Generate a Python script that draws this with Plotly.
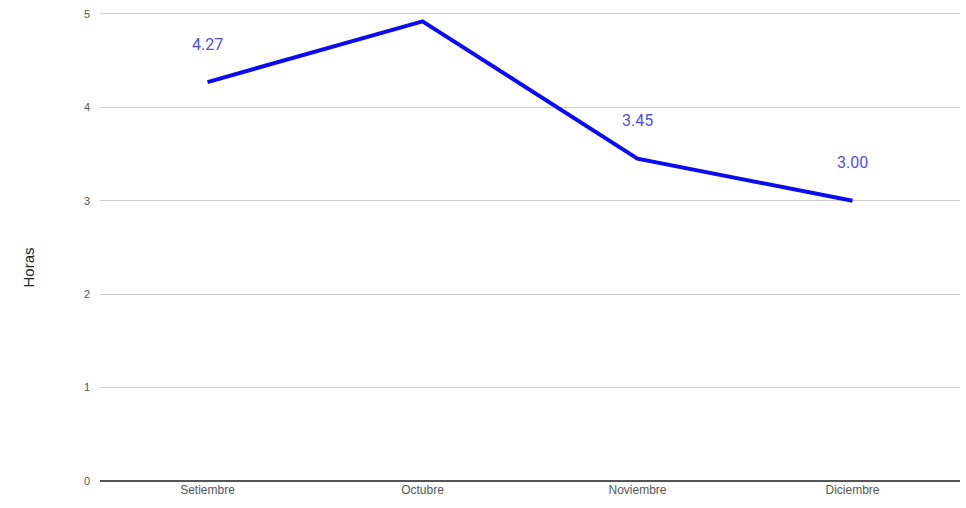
import plotly.graph_objects as go

months = ["Setiembre", "Octubre", "Noviembre", "Diciembre"]
horas = [4.27, 4.92, 3.45, 3.00]
labels = ["4.27", "", "3.45", "3.00"]
y_ticks = [0, 1, 2, 3, 4, 5]

W, H = 966, 508
ml, mr, mt, mb = 100, 6, 12, 27

fig = go.Figure()
fig.add_trace(go.Scatter(
    x=months, y=horas, mode="lines",
    line=dict(color="#0b0bf0", width=4),
    hoverinfo="skip", showlegend=False,
))
for m, v, t in zip(months, horas, labels):
    if t:
        fig.add_annotation(x=m, y=v, text=t, showarrow=False, yshift=38,
                           font=dict(family="Roboto, Arial", size=16, color="#5050e0"))

fig.add_annotation(xref="paper", yref="paper", x=-(ml - 17) / (W - ml - mr),
                   y=1 - (268 - mt) / (H - mt - mb), text="Horas", textangle=-90,
                   showarrow=False, font=dict(family="Arial", size=15, color="#222"))

fig.update_layout(
    width=W, height=H, margin=dict(l=ml, r=mr, t=mt, b=mb),
    paper_bgcolor="white", plot_bgcolor="white",
    xaxis=dict(type="category", range=[-0.5, 3.5], showgrid=False, ticks="",
               showline=False, zeroline=False,
               tickfont=dict(family="Arial", size=12, color="#555")),
    yaxis=dict(range=[0, 5.02], tickvals=y_ticks, showgrid=True, gridcolor="#cccccc",
               gridwidth=1, zeroline=True, zerolinecolor="#555", zerolinewidth=2,
               ticklabelstandoff=9,
               tickfont=dict(family="Arial", size=11, color="#555")),
)
fig.write_html("out.html")
